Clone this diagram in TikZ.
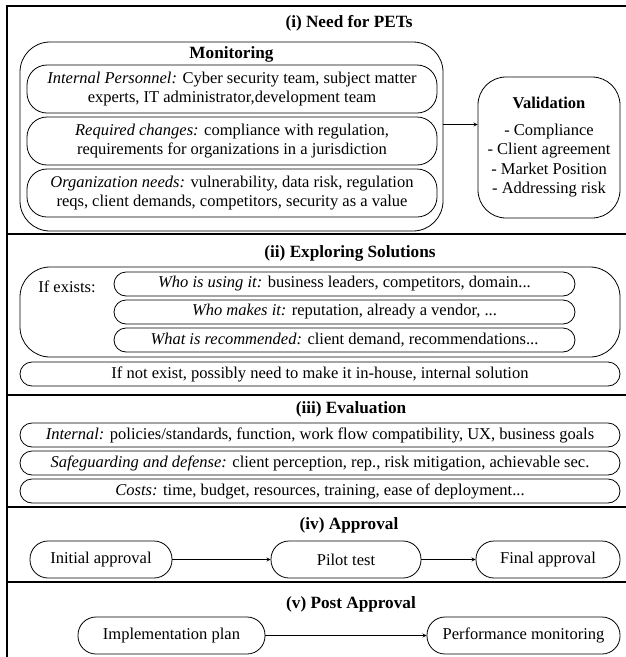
\documentclass[tikz,border=0pt]{standalone}
\usepackage{fontspec}
\setmainfont{Liberation Serif}
\usetikzlibrary{arrows,shapes,positioning}

\begin{document}
\begin{tikzpicture}[x=1pt, y=-1pt, auto, font=\fontsize{16.5}{19.5}\selectfont]
      % Define block styles
      \tikzstyle{frame} = [draw, line width=1.3pt]
      \tikzstyle{head} = [font=\fontsize{17.2}{19.5}\selectfont\bfseries, inner sep=0pt]
      \tikzstyle{group} = [rectangle, draw, rounded corners=30pt, line width=0.8pt, inner sep=0pt]
      \tikzstyle{item} = [rectangle, draw, rounded corners=12pt, line width=0.8pt, minimum height=24pt, inner sep=0pt, align=center]
      \tikzstyle{twoline} = [item, rounded corners=20pt, minimum height=48pt, minimum width=410pt]
      \tikzstyle{stage} = [item, rounded corners=18pt, minimum height=37pt]
      \tikzstyle{line} = [draw, line width=0.8pt, -stealth]

      \useasboundingbox (0,0) rectangle (626,657);

      % Frame and section rules
      \draw [frame] (7,657) -- (7,6) -- (626,6);
      \foreach \y in {234,395,507,582}
        \draw [frame] (7,\y) -- (626,\y);

      % (i) Need for PETs
      \node [head] (needtitle) at (349,23) {(i) Need for PETs};
      \node [group, minimum width=423pt, minimum height=189pt] (mon) at (231.5,136.5) {};
      \node [head] (montitle) at (231.5,54) {Monitoring};
      \node [twoline] (personnel) at (232,89) {\textit{Internal Personnel:} Cyber security team, subject matter\\experts, IT administrator,development team};
      \node [twoline, below of=personnel, node distance=52pt] (changes) {\textit{Required changes:} compliance with regulation,\\requirements for organizations in a jurisdiction};
      \node [twoline, below of=changes, node distance=52pt] (needs) {\textit{Organization needs:} vulnerability, data risk, regulation\\reqs, client demands, competitors, security as a value};
      \node [group, rounded corners=28pt, minimum width=142pt, minimum height=141pt, align=center] (val) at (549,147.5)
        {\textbf{Validation}\\[7pt]- Compliance\\- Client agreement\\- Market Position\\- Addressing risk};
      \coordinate (monout) at ([yshift=12pt]mon.east);
      \path [line] (monout) -- (monout -| val.west);

      % (ii) Exploring Solutions
      \node [head] (exploretitle) at (350,253) {(ii) Exploring Solutions};
      \node [group, minimum width=600pt, minimum height=90pt] (exists) at (320,312) {};
      \node [inner sep=0pt] (existslabel) at (67,287) {If exists:};
      \node [item, minimum width=461pt] (using) at (344.5,284) {\textit{Who is using it:} business leaders, competitors, domain...};
      \node [item, minimum width=461pt, below of=using, node distance=28pt] (makes) {\textit{Who makes it:} reputation, already a vendor, ...};
      \node [item, minimum width=461pt, below of=makes, node distance=28pt] (recommended) {\textit{What is recommended:} client demand, recommendations...};
      \node [item, minimum width=600pt] (notexist) at (320,374) {If not exist, possibly need to make it in-house, internal solution};

      % (iii) Evaluation
      \node [head] (evaltitle) at (351,409) {(iii) Evaluation};
      \node [item, minimum width=600pt] (internal) at (320,435) {\textit{Internal:} policies/standards, function, work flow compatibility, UX, business goals};
      \node [item, minimum width=600pt, below of=internal, node distance=28pt] (defense) {\textit{Safeguarding and defense:} client perception, rep., risk mitigation, achievable sec.};
      \node [item, minimum width=600pt, below of=defense, node distance=28pt] (costs) {\textit{Costs:} time, budget, resources, training, ease of deployment...};

      % (iv) Approval
      \node [head] (approvaltitle) at (349,525) {(iv) Approval};
      \node [stage, minimum width=142pt] (initial) at (101,559.5) {Initial approval};
      \node [stage, minimum width=150pt, right of=initial, node distance=245pt] (pilot) {Pilot test};
      \node [stage, minimum width=144pt, right of=pilot, node distance=202pt] (final) {Final approval};

      % (v) Post Approval
      \node [head] (posttitle) at (351,604) {(v) Post Approval};
      \node [stage, minimum width=187pt] (plan) at (171.5,635.5) {Implementation plan};
      \node [stage, minimum width=193pt, right of=plan, node distance=352pt] (perf) {Performance monitoring};

      % Draw lines
      \path [line] (initial) -- (pilot);
      \path [line] (pilot) -- (final);
      \path [line] (plan) -- (perf);
    \end{tikzpicture}
\end{document}
